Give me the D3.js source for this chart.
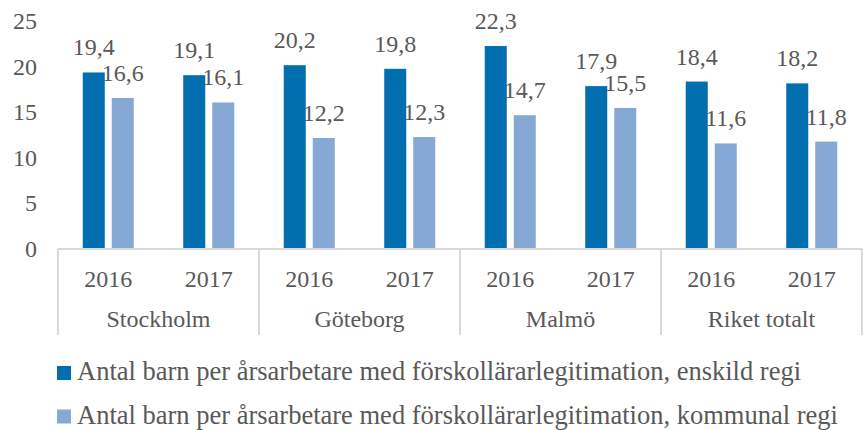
<!DOCTYPE html>
<html>
<head>
<meta charset="utf-8">
<script src="https://cdn.jsdelivr.net/npm/d3@7"></script>
<style>
  body { margin: 0; background: #fff; }
  svg text { font-family: "Liberation Serif", "Times New Roman", serif; fill: #595959; }
</style>
</head>
<body>
<div id="chart"></div>
<script>
// data
var cities = ["Stockholm", "Göteborg", "Malmö", "Riket totalt"];
var years = ["2016", "2017"];
var seriesNames = [
  "Antal barn per årsarbetare med förskollärarlegitimation, enskild regi",
  "Antal barn per årsarbetare med förskollärarlegitimation, kommunal regi"
];
var enskild = [19.4, 19.1, 20.2, 19.8, 22.3, 17.9, 18.4, 18.2];
var kommunal = [16.6, 16.1, 12.2, 12.3, 14.7, 15.5, 11.6, 11.8];
var yTicks = [0, 5, 10, 15, 20, 25];
var colors = ["#006EAF", "#85A8D4"];

// build rows
var rows = [];
cities.forEach(function(c, i) {
  years.forEach(function(y, j) {
    var k = i * years.length + j;
    rows.push({key: c + "|" + y, city: c, year: y, values: [enskild[k], kommunal[k]]});
  });
});

var W = 863, H = 430;
var margin = {top: 21.5, left: 58, right: 1};
var plotBottom = 249;
var labelSize = "24px", legendSize = "26.5px";

var svg = d3.select("#chart").append("svg")
  .attr("width", W)
  .attr("height", H);

var x0 = d3.scaleBand()
  .domain(rows.map(function(d) { return d.key; }))
  .range([margin.left, W - margin.right])
  .padding(0);

var x1 = d3.scaleBand()
  .domain([0, 1])
  .range([0, x0.bandwidth()])
  .paddingInner(0.241)
  .paddingOuter(0.853);

var y = d3.scaleLinear()
  .domain([0, 25])
  .range([plotBottom, margin.top]);

var fmt = d3.formatLocale({decimal: ",", thousands: " ", grouping: [3], currency: ["", ""]}).format(".1f");

// y axis labels
svg.append("g")
  .selectAll("text")
  .data(yTicks)
  .enter()
  .append("text")
    .attr("x", 37)
    .attr("y", function(d) { return y(d); })
    .attr("dy", "0.33em")
    .attr("text-anchor", "end")
    .style("font-size", labelSize)
    .text(function(d) { return d; });

// bars
var grp = svg.selectAll("g.cat")
  .data(rows)
  .enter()
  .append("g")
    .attr("class", "cat")
    .attr("transform", function(d) { return "translate(" + x0(d.key) + ",0)"; });

grp.selectAll("rect")
  .data(function(d) { return d.values.map(function(v, i) { return {i: i, v: v}; }); })
  .enter()
  .append("rect")
    .attr("x", function(d) { return x1(d.i); })
    .attr("y", function(d) { return y(d.v); })
    .attr("width", x1.bandwidth())
    .attr("height", function(d) { return plotBottom - y(d.v); })
    .attr("fill", function(d) { return colors[d.i]; });

// value labels
grp.selectAll("text.val")
  .data(function(d) { return d.values.map(function(v, i) { return {i: i, v: v}; }); })
  .enter()
  .append("text")
    .attr("class", "val")
    .attr("x", function(d) { return x1(d.i) + x1.bandwidth() / 2; })
    .attr("y", function(d) { return y(d.v) - 17; })
    .attr("text-anchor", "middle")
    .style("font-size", labelSize)
    .text(function(d) { return fmt(d.v); });

// x axis line and separators
var axisColor = "#D9D9D9";
svg.append("line")
  .attr("x1", margin.left).attr("x2", W - margin.right)
  .attr("y1", plotBottom).attr("y2", plotBottom)
  .attr("stroke", axisColor).attr("stroke-width", 2);

var sepX = cities.map(function(c) { return x0(c + "|" + years[0]); });
sepX.push(x0.range()[1]);
svg.selectAll("line.sep")
  .data(sepX)
  .enter()
  .append("line")
    .attr("class", "sep")
    .attr("x1", function(d) { return d; }).attr("x2", function(d) { return d; })
    .attr("y1", plotBottom).attr("y2", 335)
    .attr("stroke", axisColor).attr("stroke-width", 2);

// year labels
svg.selectAll("text.year")
  .data(rows)
  .enter()
  .append("text")
    .attr("class", "year")
    .attr("x", function(d) { return x0(d.key) + x0.bandwidth() / 2; })
    .attr("y", 287)
    .attr("text-anchor", "middle")
    .style("font-size", labelSize)
    .text(function(d) { return d.year; });

// city labels
svg.selectAll("text.city")
  .data(cities)
  .enter()
  .append("text")
    .attr("class", "city")
    .attr("x", function(c) { return x0(c + "|" + years[0]) + x0.bandwidth(); })
    .attr("y", 327)
    .attr("text-anchor", "middle")
    .style("font-size", labelSize)
    .text(function(c) { return c; });

// legend
var leg = svg.selectAll("g.leg")
  .data(seriesNames)
  .enter()
  .append("g")
    .attr("class", "leg")
    .attr("transform", function(d, i) { return "translate(57," + (366 + i * 43.5) + ")"; });

leg.append("rect")
  .attr("width", 14).attr("height", 14)
  .attr("fill", function(d, i) { return colors[i]; });

leg.append("text")
  .attr("x", 20)
  .attr("y", 14)
  .style("font-size", legendSize)
  .text(function(d) { return d; });
</script>
</body>
</html>
